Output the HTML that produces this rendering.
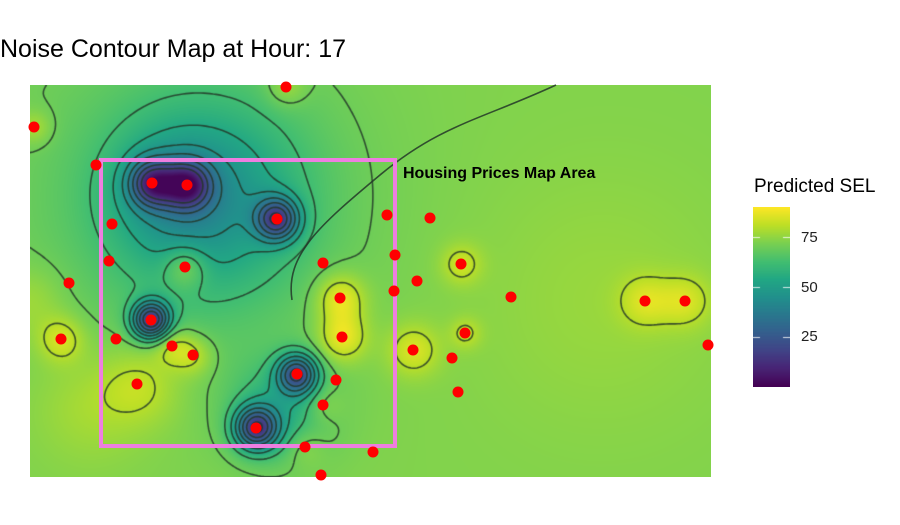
<!DOCTYPE html>
<html><head><meta charset="utf-8">
<style>
html,body{margin:0;padding:0;background:#fff;width:900px;height:525px;overflow:hidden;font-family:"Liberation Sans",sans-serif;}
#wrap{position:relative;width:900px;height:525px;}
</style></head>
<body>
<div id="wrap">
<div style="position:absolute;left:0;top:35px;font-size:25px;color:#000;">Noise Contour Map at Hour: 17</div>
<canvas id="map" width="681" height="392" style="position:absolute;left:30px;top:85px;"></canvas>
<svg id="ov" width="900" height="525" style="position:absolute;left:0;top:0;"></svg>
<div style="position:absolute;left:754px;top:176px;font-size:19px;color:#000;">Predicted SEL</div>
<canvas id="bar" width="37" height="180" style="position:absolute;left:753px;top:207px;"></canvas>
<div style="position:absolute;left:801px;top:229px;font-size:15px;color:#222;">75</div>
<div style="position:absolute;left:801px;top:279px;font-size:15px;color:#222;">50</div>
<div style="position:absolute;left:801px;top:328px;font-size:15px;color:#222;">25</div>
</div>
<script>
// field sources (map coords 0..681 x 0..392)
const baseLevel = 73;
const srcX =   [150, 180, 250, 122, 157, 247, 121, 267, 226, 140, 310, 312, 31, 615, 655, 107, 155, 142, 163, 383, 431, 435, 293, 275, 4, 256, 570, 0, 62, 120];
const srcY =   [110, 115, 325, 98, 100, 134, 235, 289, 343, 105, 213, 252, 254, 216, 216, 299, 182, 261, 270, 265, 179, 248, 320, 362, 42, 2, 215, 215, 320, 300];
const srcAmp = [-8, -20, -16, -40, -40, -45, -55, -45, -50, -10, 16, 16, 12, 10, 10, 5, 14, 10, 10, 12, 10, 8, 6, 6, 8, 8, 3, 6, 6, 4];
const srcSpread=[120, 65, 35, 16, 16, 15, 13, 14, 15, 40, 17, 17, 16, 18, 18, 25, 15, 14, 14, 18, 14, 11, 14, 14, 12, 14, 90, 25, 40, 30];
// red dots (map coords)
const dotX = [256,4,66,122,157,247,82,357,400,79,155,293,365,431,39,387,364,310,481,615,655,121,31,86,312,435,142,163,383,422,678,267,306,107,428,293,226,275,343,291];
const dotY = [2,42,80,98,100,134,139,130,133,176,182,178,170,179,198,196,206,213,212,216,216,235,254,254,252,248,261,270,265,273,260,289,295,299,307,320,343,362,367,390];
const valueMin = 0, valueMax = 90;
const contourLevels = [14,22,30,38,46,54,62,70,80];
const W = 681, H = 392, OX = 30, OY = 85;
const xScale = v => OX + v;
const yScale = v => OY + v;

const vir = ["#440154","#482475","#414487","#355f8d","#2a788e","#21918c","#22a884","#44bf70","#7ad151","#bddf26","#fde725"].map(h=>[parseInt(h.slice(1,3),16),parseInt(h.slice(3,5),16),parseInt(h.slice(5,7),16)]);
function color(v){
  let t=(v-valueMin)/(valueMax-valueMin); t=Math.max(0,Math.min(1,t));
  const f=t*10, i=Math.min(9,Math.floor(f)), r=f-i;
  const a=vir[i], b=vir[i+1];
  return [a[0]+(b[0]-a[0])*r, a[1]+(b[1]-a[1])*r, a[2]+(b[2]-a[2])*r];
}
function field(x,y){
  let v=baseLevel;
  for(let k=0;k<srcX.length;k++){
    const dx=x-srcX[k], dy=y-srcY[k], s=srcSpread[k];
    v+=srcAmp[k]*Math.exp(-(dx*dx+dy*dy)/(2*s*s));
  }
  return Math.max(valueMin+1, Math.min(valueMax-1, v));
}
const ctx=document.getElementById('map').getContext('2d');
const img=ctx.createImageData(W,H);
for(let y=0;y<H;y++)for(let x=0;x<W;x++){
  const c=color(field(x,y)); const p=(y*W+x)*4;
  img.data[p]=c[0];img.data[p+1]=c[1];img.data[p+2]=c[2];img.data[p+3]=255;
}
ctx.putImageData(img,0,0);
// contours via marching squares
const st=3, gw=Math.ceil(W/st)+1, gh=Math.ceil(H/st)+1;
const g=[];
for(let j=0;j<gh;j++){g.push([]);for(let i=0;i<gw;i++)g[j].push(field(i*st,j*st));}
ctx.strokeStyle="rgba(35,55,40,0.85)";ctx.lineWidth=1.6;ctx.beginPath();
for(const L of contourLevels){
  for(let j=0;j<gh-1;j++)for(let i=0;i<gw-1;i++){
    const a=g[j][i],b=g[j][i+1],c=g[j+1][i+1],d=g[j+1][i];
    const pts=[];
    const e=(v1,v2,x1,y1,x2,y2)=>{if((v1<L)!==(v2<L)){const t=(L-v1)/(v2-v1);pts.push([x1+(x2-x1)*t,y1+(y2-y1)*t]);}};
    const x0=i*st,y0=j*st,x1=x0+st,y1=y0+st;
    e(a,b,x0,y0,x1,y0);e(b,c,x1,y0,x1,y1);e(c,d,x1,y1,x0,y1);e(d,a,x0,y1,x0,y0);
    if(pts.length>=2){ctx.moveTo(pts[0][0],pts[0][1]);ctx.lineTo(pts[1][0],pts[1][1]);}
    if(pts.length===4){ctx.moveTo(pts[2][0],pts[2][1]);ctx.lineTo(pts[3][0],pts[3][1]);}
  }
}
ctx.stroke();
// colorbar
const bctx=document.getElementById('bar').getContext('2d');
for(let y=0;y<180;y++){const c=color(valueMax-(y/179)*(valueMax-valueMin));bctx.fillStyle=`rgb(${c[0]|0},${c[1]|0},${c[2]|0})`;bctx.fillRect(0,y,37,1);}
bctx.strokeStyle="rgba(255,255,255,0.8)";bctx.lineWidth=1;
[75,50,25].forEach(t=>{const y=Math.round((valueMax-t)/(valueMax-valueMin)*180)+0.5;bctx.beginPath();bctx.moveTo(0,y);bctx.lineTo(7,y);bctx.moveTo(30,y);bctx.lineTo(37,y);bctx.stroke();});
// overlay
const ns="http://www.w3.org/2000/svg", ov=document.getElementById('ov');
const diag=document.createElementNS(ns,'path');
diag.setAttribute('d',`M${xScale(262)},${yScale(215)} C ${xScale(255)},${yScale(170)} ${xScale(290)},${yScale(140)} ${xScale(350)},${yScale(90)} S ${xScale(450)},${yScale(35)} ${xScale(526)},${yScale(0)}`);
diag.setAttribute('fill','none');diag.setAttribute('stroke','rgba(35,55,40,0.85)');diag.setAttribute('stroke-width','1.6');


ov.appendChild(diag);
const rect=document.createElementNS(ns,'rect');
rect.setAttribute('x',101);rect.setAttribute('y',160);rect.setAttribute('width',294);rect.setAttribute('height',286);
rect.setAttribute('fill','none');rect.setAttribute('stroke','#ee7ee0');rect.setAttribute('stroke-width','4');


ov.appendChild(rect);
const lab=document.createElementNS(ns,'text');
lab.setAttribute('x',403);lab.setAttribute('y',178);lab.setAttribute('font-size','16');lab.setAttribute('font-weight','bold');lab.setAttribute('font-family','Liberation Sans, sans-serif');
lab.textContent='Housing Prices Map Area';


ov.appendChild(lab);
for(let k=0;k<dotX.length;k++){
  const c=document.createElementNS(ns,'circle');
  c.setAttribute('cx',xScale(dotX[k]));c.setAttribute('cy',yScale(dotY[k]));c.setAttribute('r',5.5);c.setAttribute('fill','#ff0000');
  
  
  ov.appendChild(c);
}
</script>
</body></html>
